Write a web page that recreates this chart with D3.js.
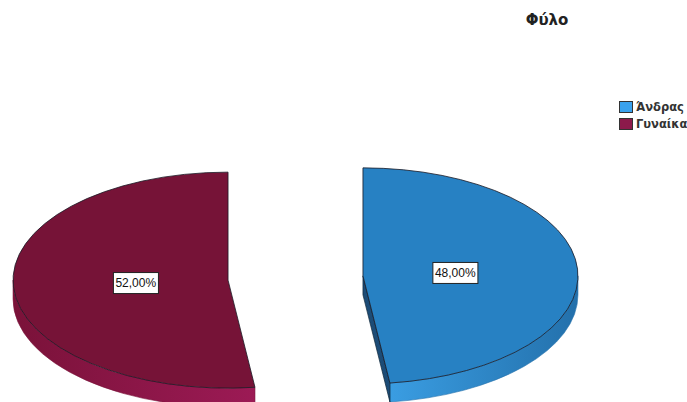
<!DOCTYPE html>
<html>
<head>
<meta charset="utf-8">
<script src="https://cdn.jsdelivr.net/npm/d3@7/dist/d3.min.js"></script>
<style>
  html, body { margin: 0; padding: 0; background: #ffffff; }
  svg { display: block; }
</style>
</head>
<body>
<svg id="chart" width="687" height="402"></svg>
<script>
// Gender breakdown (percent of respondents)
const title = "Φύλο";
const categories = ["Άνδρας", "Γυναίκα"];
const values = [48, 52];
const topColors = ["#2781c3", "#761337"];
const rimLight = ["#3a9de2", "#9c1a55"];
const rimDark = ["#2370ab", "#7a1239"];
const cutColors = ["#1c4c77", "#4f0c25"];
const legendColors = ["#3aa2ee", "#8c1a4b"];

const W = 687, H = 402;
const svg = d3.select("#chart");

// 3D pie geometry
const rx = 215, ry = 108, depth = 19;
const base = { x: 295.5, y: 278 };
const explode = 67.6;

const pie = d3.pie().sort(null).value(d => d).startAngle(0).endAngle(2 * Math.PI);
const arcs = pie(values);
const total = d3.sum(values);
const fmt = v => d3.format(".2f")(v).replace(".", ",") + "%";

function pt(c, a, dy = 0) {
  return [c.x + rx * Math.sin(a), c.y - ry * Math.cos(a) + dy];
}

const defs = svg.append("defs");

arcs.forEach((d, i) => {
  const mid = (d.startAngle + d.endAngle) / 2;
  const c = {
    x: base.x + explode * Math.sin(mid),
    y: base.y - explode * Math.cos(mid) * (ry / rx)
  };
  const g = svg.append("g");

  // rim gradient (lighter towards the front)
  const gid = "rim" + i;
  const grad = defs.append("linearGradient").attr("id", gid)
    .attr("x1", "0").attr("x2", "1").attr("y1", "0").attr("y2", "0");
  const leftSide = Math.sin(mid) < 0;
  grad.append("stop").attr("offset", "0%").attr("stop-color", leftSide ? rimDark[i] : rimLight[i]);
  grad.append("stop").attr("offset", "100%").attr("stop-color", leftSide ? rimLight[i] : rimDark[i]);

  // outer wall: only the front half of the ellipse faces the viewer
  const s = Math.max(d.startAngle, Math.PI / 2);
  const e = Math.min(d.endAngle, 3 * Math.PI / 2);
  if (e > s) {
    const t0 = pt(c, s), t1 = pt(c, e), b0 = pt(c, s, depth), b1 = pt(c, e, depth);
    g.append("path")
      .attr("d", `M${t0}A${rx},${ry} 0 0 1 ${t1}L${b1}A${rx},${ry} 0 0 0 ${b0}Z`)
      .attr("fill", `url(#${gid})`)
      .attr("stroke", rimDark[i]).attr("stroke-width", 0.6);
  }

  // radial cut faces that turn towards the viewer
  [[d.startAngle, -1], [d.endAngle, 1]].forEach(([a, sgn]) => {
    if (sgn * Math.sin(a) > 0.01) {
      const p = pt(c, a), pb = pt(c, a, depth);
      g.append("path")
        .attr("d", `M${c.x},${c.y}L${p}L${pb}L${c.x},${c.y + depth}Z`)
        .attr("fill", cutColors[i])
        .attr("stroke", "#10263a").attr("stroke-width", 0.7);
    }
  });

  // top face
  const p0 = pt(c, d.startAngle), p1 = pt(c, d.endAngle);
  const large = d.endAngle - d.startAngle > Math.PI ? 1 : 0;
  g.append("path")
    .attr("d", `M${c.x},${c.y}L${p0}A${rx},${ry} 0 ${large} 1 ${p1}Z`)
    .attr("fill", topColors[i])
    .attr("stroke", "#1a1a26").attr("stroke-opacity", 0.8).attr("stroke-width", 1)
    .attr("stroke-linejoin", "round");

  // percentage label
  const lp = [c.x + 0.43 * rx * Math.sin(mid), c.y - 0.43 * ry * Math.cos(mid)];
  const lg = svg.append("g").attr("transform", `translate(${lp})`);
  const txt = lg.append("text")
    .attr("text-anchor", "middle").attr("dy", "0.36em")
    .attr("font-family", "'Liberation Sans', Arial, sans-serif")
    .attr("font-size", 12).attr("fill", "#111")
    .text(fmt(d.data / total * 100));
  const bb = txt.node().getBBox();
  lg.insert("rect", "text")
    .attr("x", bb.x - 2).attr("y", -10.5)
    .attr("width", bb.width + 4).attr("height", 21)
    .attr("fill", "#ffffff").attr("stroke", "#222").attr("stroke-width", 1);
});

// title
svg.append("text")
  .attr("x", 547).attr("y", 25)
  .attr("text-anchor", "middle")
  .attr("font-family", "'DejaVu Sans', sans-serif")
  .attr("font-weight", "bold").attr("font-size", 15)
  .attr("fill", "#222")
  .text(title);

// legend
const legend = svg.append("g").attr("transform", "translate(619,101)");
categories.forEach((name, i) => {
  const row = legend.append("g").attr("transform", `translate(0,${i * 17})`);
  row.append("rect")
    .attr("x", 0.5).attr("y", 0.5).attr("width", 13).attr("height", 11)
    .attr("fill", legendColors[i]).attr("stroke", "#333").attr("stroke-width", 1);
  row.append("text")
    .attr("x", 17).attr("y", 10)
    .attr("font-family", "'DejaVu Sans', sans-serif")
    .attr("font-weight", "bold").attr("font-size", 11.5)
    .attr("fill", "#333")
    .text(name);
});
</script>
</body>
</html>
